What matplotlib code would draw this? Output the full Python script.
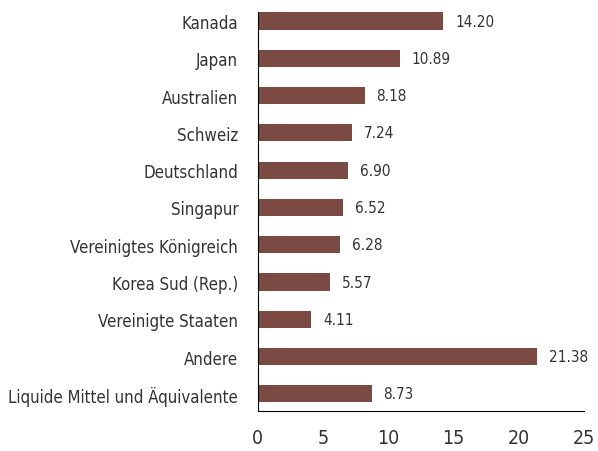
import matplotlib
matplotlib.use("Agg")
import matplotlib.pyplot as plt

categories = ["Kanada", "Japan", "Australien", "Schweiz", "Deutschland", "Singapur",
              "Vereinigtes Königreich", "Korea Sud (Rep.)", "Vereinigte Staaten",
              "Andere", "Liquide Mittel und Äquivalente"]
values = [14.20, 10.89, 8.18, 7.24, 6.90, 6.52, 6.28, 5.57, 4.11, 21.38, 8.73]
xticks = [0, 5, 10, 15, 20, 25]

plt.rcParams['font.family'] = ['DejaVu Sans']
plt.rcParams['font.stretch'] = 'condensed'

fig = plt.figure(figsize=(5.98, 4.52), dpi=100)
ax = fig.add_axes([0.431, 0.0885, 0.546, 0.8825])
y = list(range(len(categories)))
ax.barh(y, values, height=0.46, color="#7B4A42")
for yi, v in zip(y, values):
    ax.text(v + 0.9, yi, f"{v:.2f}", va="center", ha="left", fontsize=11,
            color="#333333", stretch="condensed")
ax.set_yticks(y)
ax.set_yticklabels(categories, fontsize=12.1, color="#333333", stretch="condensed")
ax.set_xticks(xticks)
ax.set_xticklabels([str(t) for t in xticks], fontsize=14, color="#333333", stretch="condensed")
ax.set_xlim(0, 25)
ax.set_ylim(10.46, -0.24)
for s in ["top", "right"]:
    ax.spines[s].set_visible(False)
ax.spines["left"].set_color("black")
ax.spines["bottom"].set_color("black")
ax.tick_params(axis="both", length=0)
ax.tick_params(axis="y", pad=14)
ax.tick_params(axis="x", pad=12)
fig.savefig("out.png", dpi=100)
